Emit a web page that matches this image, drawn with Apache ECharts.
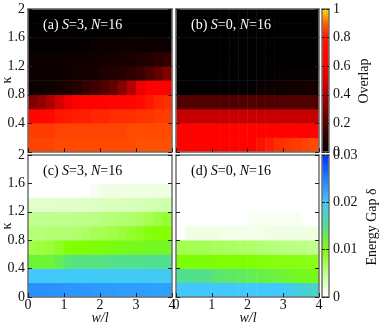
<!DOCTYPE html>
<html><head><meta charset="utf-8">
<script src="https://cdn.jsdelivr.net/npm/echarts@6/dist/echarts.min.js"></script>
<style>html,body{margin:0;padding:0;background:#fff}#c{width:382px;height:325px}</style>
</head><body><div id="c"></div>
<script>
// ---- categories (cell centres) ----
const wlCenters = ['0.125','0.375','0.625','0.875','1.125','1.375','1.625','1.875','2.125','2.375','2.625','2.875','3.125','3.375','3.625','3.875'];
const kappaCenters = ['0.1','0.3','0.5','0.7','0.9','1.1','1.3','1.5','1.7','1.9'];

// ---- tick settings ----
const wlTicks = [0, 1, 2, 3, 4];
const kappaTicks = [0, 0.4, 0.8, 1.2, 1.6, 2];
const overlapTicks = [0, 0.2, 0.4, 0.6, 0.8, 1];
const gapTicks = [0, 0.01, 0.02, 0.03];

// ---- (a) overlap, S=3 ; rows from kappa 0 (bottom) upward ----
const overlapA0 = [0.86,0.86,0.86,0.87,0.87,0.87,0.87,0.87,0.87,0.87,0.87,0.87,0.88,0.88,0.88,0.88];
const overlapA1 = [0.85,0.85,0.85,0.86,0.86,0.86,0.86,0.86,0.86,0.86,0.86,0.87,0.87,0.87,0.87,0.87];
const overlapA2 = [0.66,0.68,0.70,0.78,0.80,0.81,0.81,0.82,0.82,0.83,0.83,0.83,0.84,0.84,0.85,0.85];
const overlapA3 = [0.30,0.34,0.41,0.49,0.56,0.60,0.62,0.63,0.64,0.65,0.66,0.68,0.72,0.80,0.82,0.83];
const overlapA4 = [0.03,0.03,0.04,0.05,0.07,0.09,0.12,0.15,0.19,0.24,0.32,0.42,0.55,0.62,0.63,0.63];
const overlapA5 = [0.03,0.03,0.03,0.04,0.04,0.05,0.05,0.06,0.07,0.08,0.09,0.11,0.14,0.18,0.24,0.30];
const overlapA6 = [0.03,0.03,0.03,0.03,0.03,0.04,0.04,0.04,0.05,0.05,0.06,0.06,0.07,0.08,0.10,0.12];
const overlapA7 = [0.01,0.01,0.01,0.01,0.01,0.01,0.01,0.03,0.03,0.03,0.03,0.03,0.03,0.03,0.03,0.03];
const overlapA8 = [0.005,0.005,0.005,0.005,0.005,0.005,0.005,0.005,0.005,0.005,0.005,0.005,0.005,0.005,0.005,0.005];
const overlapA9 = [0.003,0.003,0.003,0.003,0.003,0.003,0.003,0.003,0.003,0.003,0.003,0.003,0.003,0.003,0.003,0.003];

// ---- (b) overlap, S=0 ----
const overlapB0 = [0.63,0.63,0.63,0.63,0.63,0.63,0.63,0.63,0.63,0.75,0.81,0.83,0.84,0.85,0.86,0.87];
const overlapB1 = [0.63,0.63,0.63,0.63,0.63,0.63,0.63,0.63,0.63,0.63,0.63,0.63,0.63,0.63,0.63,0.63];
const overlapB2 = [0.46,0.46,0.46,0.46,0.46,0.46,0.46,0.46,0.46,0.46,0.46,0.46,0.46,0.46,0.46,0.46];
const overlapB3 = [0.19,0.19,0.19,0.19,0.19,0.19,0.19,0.19,0.19,0.19,0.19,0.19,0.19,0.19,0.19,0.19];
const overlapB4 = [0.005,0.005,0.005,0.005,0.005,0.005,0.005,0.005,0.005,0.03,0.035,0.035,0.04,0.04,0.045,0.05];
const overlapB5 = [0.005,0.005,0.005,0.005,0.005,0.005,0.005,0.005,0.005,0.005,0.005,0.005,0.015,0.015,0.015,0.015];
const overlapB6 = [0.003,0.003,0.003,0.003,0.003,0.003,0.003,0.003,0.003,0.003,0.003,0.003,0.003,0.003,0.003,0.003];
const overlapB7 = [0.003,0.003,0.003,0.003,0.003,0.003,0.003,0.003,0.003,0.003,0.003,0.003,0.003,0.003,0.003,0.003];
const overlapB8 = [0.003,0.003,0.003,0.003,0.003,0.003,0.003,0.003,0.003,0.003,0.003,0.003,0.003,0.003,0.003,0.003];
const overlapB9 = [0.003,0.003,0.003,0.003,0.003,0.003,0.003,0.003,0.003,0.003,0.003,0.003,0.003,0.003,0.003,0.003];

// ---- (c) energy gap, S=3 ----
const gapC0 = [0.0239,0.0238,0.0237,0.0236,0.0235,0.0234,0.0233,0.0232,0.0231,0.0231,0.0230,0.0230,0.0229,0.0229,0.0228,0.0228];
const gapC1 = [0.0198,0.0198,0.0198,0.0197,0.0197,0.0197,0.0197,0.0196,0.0196,0.0196,0.0196,0.0196,0.0195,0.0195,0.0195,0.0195];
const gapC2 = [0.0118,0.0118,0.0120,0.0128,0.0140,0.0145,0.0145,0.0145,0.0145,0.0148,0.0148,0.0148,0.0148,0.0150,0.0150,0.0150];
const gapC3 = [0.0075,0.0078,0.0080,0.0088,0.0098,0.0100,0.0100,0.0102,0.0104,0.0106,0.0108,0.0110,0.0110,0.0112,0.0112,0.0112];
const gapC4 = [0.0058,0.0058,0.0060,0.0060,0.0060,0.0062,0.0066,0.0070,0.0072,0.0076,0.0080,0.0085,0.0090,0.0095,0.0098,0.0098];
const gapC5 = [0.0050,0.0050,0.0050,0.0050,0.0050,0.0052,0.0052,0.0054,0.0056,0.0058,0.0060,0.0062,0.0066,0.0072,0.0078,0.0082];
const gapC6 = [0.0024,0.0024,0.0024,0.0025,0.0025,0.0025,0.0026,0.0027,0.0028,0.0029,0.0030,0.0031,0.0033,0.0035,0.0037,0.0038];
const gapC7 = [0,0,0,0,0,0,0,0.0006,0.0012,0.0012,0.0013,0.0013,0.0013,0.0013,0.0014,0.0014];
const gapC8 = [0,0,0,0,0,0,0,0,0,0,0,0,0,0,0,0];
const gapC9 = [0,0,0,0,0,0,0,0,0,0,0,0,0,0,0,0];

// ---- (d) energy gap, S=0 ----
const gapD0 = [0.0200,0.0200,0.0200,0.0200,0.0200,0.0200,0.0200,0.0200,0.0200,0.0200,0.0200,0.0200,0.0195,0.0185,0.0180,0.0175];
const gapD1 = [0.0150,0.0150,0.0150,0.0148,0.0140,0.0137,0.0135,0.0133,0.0128,0.0125,0.0122,0.0120,0.0115,0.0112,0.0110,0.0108];
const gapD2 = [0.0102,0.0102,0.0102,0.0102,0.0101,0.0100,0.0100,0.0100,0.0100,0.0098,0.0097,0.0096,0.0095,0.0094,0.0093,0.0092];
const gapD3 = [0.0072,0.0072,0.0071,0.0070,0.0068,0.0067,0.0066,0.0065,0.0063,0.0060,0.0058,0.0056,0.0055,0.0053,0.0052,0.0050];
const gapD4 = [0,0.0012,0.0012,0.0012,0.0012,0.0010,0.0010,0.0010,0.0010,0.0010,0.0012,0.0012,0.0013,0.0013,0.0013,0.0013];
const gapD5 = [0,0,0,0,0,0,0,0,0.0006,0.0006,0.0006,0.0006,0.0006,0.0006,0,0];
const gapD6 = [0,0,0,0,0,0,0,0,0,0,0,0,0,0,0,0];
const gapD7 = [0,0,0,0,0,0,0,0,0,0,0,0,0,0,0,0];
const gapD8 = [0,0,0,0,0,0,0,0,0,0,0,0,0,0,0,0];
const gapD9 = [0,0,0,0,0,0,0,0,0,0,0,0,0,0,0,0];

const overlapA = [overlapA0,overlapA1,overlapA2,overlapA3,overlapA4,overlapA5,overlapA6,overlapA7,overlapA8,overlapA9];
const overlapB = [overlapB0,overlapB1,overlapB2,overlapB3,overlapB4,overlapB5,overlapB6,overlapB7,overlapB8,overlapB9];
const gapC = [gapC0,gapC1,gapC2,gapC3,gapC4,gapC5,gapC6,gapC7,gapC8,gapC9];
const gapD = [gapD0,gapD1,gapD2,gapD3,gapD4,gapD5,gapD6,gapD7,gapD8,gapD9];

// ---- palettes ----
const overlapPalette = ['#000000','#2a0000','#550000','#800000','#aa0000','#d80000','#ff0000','#ff0800','#ff1800','#ff6000','#ffe000'];
const gapPalette = ['#ffffff','#c0ff90','#80ff00','#50e090','#40c8ff','#2080ff','#0030ff'];

const FONT = '"Liberation Serif","Times New Roman",serif';
const FRAME = '#707070';
const INK = '#111';

function toCells(rows){
  const out = [];
  rows.forEach((row, r) => row.forEach((v, c) => out.push([c, r, v])));
  return out;
}

const panels = [
  {box:{left:28, top:9, width:144, height:143}, rows:overlapA, xLab:false, yLab:'noZero', name:'(a) {i|S}=3, {i|N}=16', nameColor:'#fff'},
  {box:{left:176, top:9, width:143, height:143}, rows:overlapB, xLab:false, yLab:'none', name:'(b) {i|S}=0, {i|N}=16', nameColor:'#fff'},
  {box:{left:28, top:155, width:144, height:142}, rows:gapC, xLab:true, yLab:'all', name:'(c) {i|S}=3, {i|N}=16', nameColor:'#000'},
  {box:{left:176, top:155, width:143, height:142}, rows:gapD, xLab:true, yLab:'none', name:'(d) {i|S}=0, {i|N}=16', nameColor:'#000'}
];
const colorbars = [
  {box:{left:322, top:9, width:7, height:143}, min:overlapTicks[0], max:overlapTicks[overlapTicks.length-1], step:overlapTicks[1]-overlapTicks[0], palette:overlapPalette},
  {box:{left:322, top:155, width:7, height:142}, min:gapTicks[0], max:gapTicks[gapTicks.length-1], step:0.01, palette:gapPalette}
];

const grid = [], xAxis = [], yAxis = [], series = [], title = [];
const lineStyle = {color: FRAME, width: 1.5};
const tickStyle = {color: '#222', width: 1};

panels.forEach((p, i) => {
  grid.push(Object.assign({}, p.box));
  xAxis.push({type:'category', gridIndex:i, data:wlCenters, show:false});
  xAxis.push({type:'value', gridIndex:i, position:'bottom', min:wlTicks[0], max:wlTicks[wlTicks.length-1], interval:1, z:10,
    axisLine:{show:true, onZero:false, lineStyle}, axisTick:{show:true, inside:true, length:4, lineStyle:tickStyle},
    axisLabel:{show:p.xLab, margin:1, fontFamily:FONT, fontSize:14, color:INK, showMinLabel:true, showMaxLabel:true}, splitLine:{show:false}});
  xAxis.push({type:'value', gridIndex:i, position:'top', min:0, max:4, interval:1, z:10,
    axisLine:{show:true, onZero:false, lineStyle}, axisTick:{show:false}, axisLabel:{show:false}, splitLine:{show:false}});
  yAxis.push({type:'category', gridIndex:i, data:kappaCenters, show:false});
  yAxis.push({type:'value', gridIndex:i, position:'left', min:kappaTicks[0], max:kappaTicks[kappaTicks.length-1], interval:0.4, z:10,
    axisLine:{show:true, onZero:false, lineStyle}, axisTick:{show:true, inside:true, length:4, lineStyle:tickStyle},
    axisLabel:{show:p.yLab !== 'none', margin:3, fontFamily:FONT, fontSize:14, color:INK, showMinLabel:true, showMaxLabel:true,
      formatter: v => (p.yLab === 'noZero' && v === 0) ? '' : String(+v.toFixed(1))}, splitLine:{show:false}});
  yAxis.push({type:'value', gridIndex:i, position:'right', min:0, max:2, interval:0.4, z:10,
    axisLine:{show:true, onZero:false, lineStyle}, axisTick:{show:true, inside:true, length:4, lineStyle:tickStyle},
    axisLabel:{show:false}, splitLine:{show:false}});
  series.push({type:'heatmap', xAxisIndex:3*i, yAxisIndex:3*i, data:toCells(p.rows), itemStyle:{borderWidth:0}, emphasis:{disabled:true}, progressive:0});
  title.push({text:p.name, left:p.box.left + 15, top:p.box.top + 9, padding:0,
    textStyle:{fontFamily:FONT, fontSize:14, fontWeight:'normal', color:p.nameColor,
      rich:{i:{fontFamily:FONT, fontSize:14, fontStyle:'italic', color:p.nameColor}}}});
});

colorbars.forEach((cb, k) => {
  const gi = 4 + k;
  grid.push(Object.assign({}, cb.box));
  xAxis.push({type:'value', gridIndex:gi, position:'bottom', min:0, max:1, z:10,
    axisLine:{show:true, onZero:false, lineStyle}, axisTick:{show:false}, axisLabel:{show:false}, splitLine:{show:false}});
  xAxis.push({type:'value', gridIndex:gi, position:'top', min:0, max:1, z:10,
    axisLine:{show:true, onZero:false, lineStyle}, axisTick:{show:false}, axisLabel:{show:false}, splitLine:{show:false}});
  yAxis.push({type:'value', gridIndex:gi, position:'left', min:cb.min, max:cb.max, interval:cb.step, z:10,
    axisLine:{show:true, onZero:false, lineStyle}, axisTick:{show:true, inside:true, length:3, lineStyle:tickStyle},
    axisLabel:{show:false}, splitLine:{show:false}});
  yAxis.push({type:'value', gridIndex:gi, position:'right', min:cb.min, max:cb.max, interval:cb.step, z:10,
    axisLine:{show:true, onZero:false, lineStyle}, axisTick:{show:true, inside:true, length:3, lineStyle:tickStyle},
    axisLabel:{show:true, margin:4, fontFamily:FONT, fontSize:14, color:INK, showMinLabel:true, showMaxLabel:true}, splitLine:{show:false}});
  const stops = cb.palette.map((c, j) => ({offset: j / (cb.palette.length - 1), color: c}));
  series.push({type:'custom', xAxisIndex:12 + 2*k, yAxisIndex:12 + 2*k + 1, data:[[cb.min, cb.max]],
    renderItem: (params, api) => {
      const p0 = api.coord([0, api.value(0)]);
      const p1 = api.coord([1, api.value(1)]);
      return {type:'rect', shape:{x:p0[0], y:p1[1], width:p1[0]-p0[0], height:p0[1]-p1[1]},
        style:{fill:new echarts.graphic.LinearGradient(0, 1, 0, 0, stops)}};
    }});
});

const textEl = (t, x, y, rot, italic) => ({type:'text', x, y, rotation:rot, z:20,
  style:{text:t, fill:INK, font:(italic?'italic ':'') + '14px ' + FONT, textAlign:'center', textVerticalAlign:'middle'}});

const option = {
  animation:false,
  grid, xAxis, yAxis, series, title,
  visualMap:[
    {type:'continuous', show:false, seriesIndex:[0,1], min:overlapTicks[0], max:overlapTicks[overlapTicks.length-1], inRange:{color:overlapPalette}},
    {type:'continuous', show:false, seriesIndex:[2,3], min:gapTicks[0], max:gapTicks[gapTicks.length-1], inRange:{color:gapPalette}}
  ],
  graphic:[
    textEl('κ', 7, 80, Math.PI/2, false),
    textEl('κ', 7, 226, Math.PI/2, false),
    textEl('w/l', 100, 318, 0, true),
    textEl('w/l', 248, 318, 0, true),
    textEl('Overlap', 364, 81, Math.PI/2, false),
    textEl('Energy Gap δ', 372, 227, Math.PI/2, false)
  ]
};
const chart = echarts.init(document.getElementById('c'), null, {renderer:'canvas'});
chart.setOption(option);
</script></body></html>
